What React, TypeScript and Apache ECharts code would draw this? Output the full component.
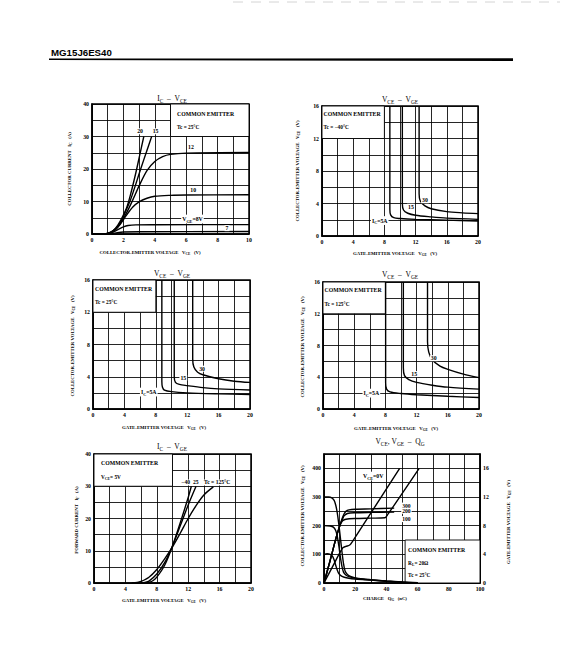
import React, { useEffect, useRef } from 'react';
import * as echarts from 'echarts';

const SERIF = "'Liberation Serif','DejaVu Serif','Times New Roman',serif";
const SANS = "'Liberation Sans',Arial,Helvetica,sans-serif";

// ---------- Chart 1: IC – VCE (Tc = 25°C) ----------
const icVge20 = [[0, 0], [0.8, 0.05], [1.2, 0.6], [1.5, 1.8], [1.8, 4], [2.2, 8], [2.5, 13], [2.8, 19], [3.05, 24.5], [3.3, 30]];
const icVge15 = [[0, 0], [0.8, 0.05], [1.2, 0.6], [1.5, 1.6], [1.8, 3.5], [2.1, 6.5], [2.45, 10.5], [2.8, 15.5], [3.1, 20], [3.45, 25], [3.8, 30]];
const icVge12 = [[0, 0], [0.8, 0.05], [1.2, 0.5], [1.5, 1.5], [1.8, 3.2], [2.2, 6.5], [2.6, 10.5], [3, 14.8], [3.5, 19.5], [4, 22.3], [4.5, 23.8], [5, 24.5], [6, 24.9], [10, 25.1]];
const icVge10 = [[0, 0], [0.8, 0.05], [1.2, 0.5], [1.5, 1.4], [1.8, 3], [2.2, 5.8], [2.6, 8.3], [3, 9.9], [3.5, 11], [4, 11.6], [5, 11.9], [6, 12], [10, 12.1]];
const icVge8 = [[0, 0], [1, 0.1], [1.4, 0.7], [1.7, 1.5], [2, 2.2], [2.3, 2.6], [2.8, 2.8], [4, 2.85], [10, 2.9]];
const icVge7 = [[0, 0], [1.2, 0.1], [1.6, 0.4], [2, 0.6], [3, 0.7], [10, 0.75]];
const c1XLabels = [0, 2, 4, 6, 8, 10];
const c1YLabels = [0, 10, 20, 30, 40];

// ---------- Charts 2-4: VCE – VGE ----------
const tm40Ic5 = [[8.7, 16], [8.7, 3.3], [8.8, 2.6], [9.2, 2.25], [10, 2.15], [12, 2.05], [16, 1.95], [20, 1.85]];
const tm40Ic15 = [[10.3, 16], [10.3, 4.0], [10.45, 3.2], [11, 2.8], [12, 2.55], [14, 2.35], [16, 2.2], [20, 2.05]];
const tm40Ic30 = [[12.45, 16], [12.45, 5.2], [12.6, 4.3], [13.2, 3.7], [14, 3.35], [16, 3.0], [18, 2.85], [20, 2.75]];
const t25Ic5 = [[8.77, 16], [8.77, 3.4], [8.85, 2.7], [9.1, 2.35], [10, 2.15], [12, 2.0], [16, 1.88], [20, 1.8]];
const t25Ic15 = [[10.35, 16], [10.35, 4.0], [10.5, 3.3], [11, 3.05], [12, 2.9], [14, 2.65], [16, 2.5], [20, 2.35]];
const t25Ic30 = [[12.7, 16], [12.7, 6.2], [12.85, 5.2], [13.3, 4.6], [14, 4.25], [16, 3.75], [18, 3.45], [20, 3.3]];
const t125Ic5 = [[8.03, 16], [8.03, 3.3], [8.15, 2.5], [8.6, 2.15], [10, 1.95], [12, 1.8], [16, 1.6], [20, 1.45]];
const t125Ic15 = [[10.3, 16], [10.3, 5.2], [10.45, 4.2], [11, 3.7], [12, 3.35], [14, 3.0], [16, 2.75], [20, 2.5]];
const t125Ic30 = [[13.4, 16], [13.4, 8.5], [13.55, 7.2], [14, 6.2], [15, 5.4], [16, 5.0], [18, 4.4], [20, 3.95]];
const vgeXLabels = [0, 4, 8, 12, 16, 20];
const vceYLabels = [0, 4, 8, 12, 16];

// ---------- Chart 5: IC – VGE (VCE = 5V) ----------
const tfM40 = [[6.6, 0], [7, 0.2], [7.5, 0.7], [8, 1.8], [9, 5.5], [10, 11.5], [11, 18.8], [12, 26.5], [12.4, 30]];
const tf25 = [[6, 0], [6.5, 0.2], [7, 0.6], [8, 2.8], [9, 6.3], [10, 11.5], [11, 17.8], [12, 24.2], [13, 30]];
const tf125 = [[4.8, 0], [5.5, 0.15], [6, 0.5], [7, 1.8], [8, 4.2], [9, 7.5], [10, 11.2], [11, 15.5], [12, 20], [13, 24], [14, 27.3], [15.2, 29.8]];
const c5YLabels = [0, 10, 20, 30, 40];

// ---------- Chart 6: VCE, VGE – QG ----------
const qgVce300 = [[0, 300], [3, 300], [5, 297], [6.5, 288], [7.5, 272], [8.5, 245], [9.5, 205], [10.5, 158], [11.5, 110], [12.5, 68], [13.5, 42], [15, 30], [17, 23], [20, 18], [25, 14], [30, 11.5], [40, 7], [50, 3.5], [60, 1]];
const qgVce200 = [[0, 200], [4, 199], [6, 195], [7.5, 183], [8.5, 163], [9.5, 130], [10.5, 90], [11.5, 58], [12.5, 38], [14, 28], [16, 22], [20, 17], [25, 13], [30, 11], [40, 6.5], [50, 3], [60, 1]];
const qgVce100 = [[0, 100], [2, 102], [4, 100], [5.5, 93], [6.5, 80], [7.5, 62], [8.5, 45], [9.5, 33], [11, 25], [13, 20], [16, 16.5], [20, 14], [30, 10], [40, 6], [50, 2.5], [60, 0.8]];
const qgVge300 = [[0, 0], [4, 3.2], [8, 6.5], [10, 7.9], [11, 8.6], [12, 9.2], [13, 9.7], [14, 10], [16, 10.2], [20, 10.3], [30, 10.35], [45, 10.45]];
const qgVge200 = [[0, 0], [4, 3.2], [8, 6.5], [10, 7.9], [11, 8.5], [12, 9.0], [13, 9.4], [15, 9.7], [20, 9.8], [30, 9.85], [45, 9.9]];
const qgVge100 = [[0, 0], [4, 3.2], [8, 6.5], [10, 7.9], [11, 8.4], [12, 8.7], [14, 8.9], [20, 9.0], [30, 9.05], [39, 9.1], [41, 9.6], [61, 16]];
const qgVge0 = [[0, 0], [6, 2.5], [12, 4.9], [14, 5.1], [16.5, 5.3], [18, 5.7], [48.5, 16]];
const qgXLabels = [0, 20, 40, 60, 80, 100];
const qgVceLabels = [0, 100, 200, 300, 400];
const qgVgeLabels = [0, 4, 8, 12, 16];

const GRIDS = [
  { left: 92, top: 104, width: 157, height: 130 },
  { left: 322, top: 106, width: 156, height: 130 },
  { left: 93, top: 280, width: 157, height: 129 },
  { left: 323, top: 282, width: 156, height: 127 },
  { left: 94, top: 454, width: 157, height: 129 },
  { left: 324, top: 454, width: 156, height: 129 },
];

function axis(gridIndex: number, min: number, max: number, interval: number, labels: number[], extra: any = {}) {
  return {
    type: 'value', gridIndex, min, max, interval,
    axisLine: { show: true, onZero: false, lineStyle: { color: '#000', width: 1.5 } },
    axisTick: { show: false },
    splitLine: { show: true, lineStyle: { color: '#000', width: 0.85 } },
    axisLabel: {
      show: true, margin: 3, fontSize: 5.8, fontWeight: 'bold', fontFamily: SERIF, color: '#000',
      formatter: (v: number) => (labels.some((l) => Math.abs(l - v) < 1e-6) ? String(v) : ''),
    },
    ...extra,
  };
}

function line(data: number[][], xi: number, yi: number) {
  return {
    type: 'line', xAxisIndex: xi, yAxisIndex: yi, data, showSymbol: false, symbol: 'none',
    smooth: 0.3, silent: true, z: 3, lineStyle: { color: '#000', width: 1.4 },
  };
}

function buildOption() {
  return {
    animation: false,
    backgroundColor: '#fff',
    grid: GRIDS.map((g) => ({ ...g, show: true, borderColor: '#000', borderWidth: 1.5, backgroundColor: 'transparent' })),
    xAxis: [
      axis(0, 0, 10, 1, c1XLabels),
      axis(1, 0, 20, 2, vgeXLabels),
      axis(2, 0, 20, 2, vgeXLabels),
      axis(3, 0, 20, 2, vgeXLabels),
      axis(4, 0, 20, 2, vgeXLabels),
      axis(5, 0, 100, 10, qgXLabels),
    ],
    yAxis: [
      axis(0, 0, 40, 5, c1YLabels),
      axis(1, 0, 16, 2, vceYLabels),
      axis(2, 0, 16, 2, vceYLabels),
      axis(3, 0, 16, 2, vceYLabels),
      axis(4, 0, 40, 5, c5YLabels),
      axis(5, 0, 450, 50, qgVceLabels),
      axis(5, 0, 18, 2, qgVgeLabels, { position: 'right', splitLine: { show: false } }),
    ],
    series: [
      line(icVge20, 0, 0), line(icVge15, 0, 0), line(icVge12, 0, 0), line(icVge10, 0, 0), line(icVge8, 0, 0), line(icVge7, 0, 0),
      line(tm40Ic5, 1, 1), line(tm40Ic15, 1, 1), line(tm40Ic30, 1, 1),
      line(t25Ic5, 2, 2), line(t25Ic15, 2, 2), line(t25Ic30, 2, 2),
      line(t125Ic5, 3, 3), line(t125Ic15, 3, 3), line(t125Ic30, 3, 3),
      line(tfM40, 4, 4), line(tf25, 4, 4), line(tf125, 4, 4),
      line(qgVce300, 5, 5), line(qgVce200, 5, 5), line(qgVce100, 5, 5),
      line(qgVge300, 5, 6), line(qgVge200, 5, 6), line(qgVge100, 5, 6), line(qgVge0, 5, 6),
    ],
  };
}

function rt(x: number, y: number, text: string, size: number, o: any = {}) {
  const weight = o.weight || 'bold';
  return {
    type: 'text', x, y, z: 10, rotation: o.rot || 0, silent: true,
    style: {
      text, fill: '#000', fontSize: size, fontFamily: SERIF, fontWeight: weight,
      align: o.align || 'center', verticalAlign: 'middle',
      backgroundColor: o.bg, padding: o.bg ? [0, 1, 0, 1] : 0,
      rich: {
        m: { fontSize: size, lineHeight: size + 3, fill: '#000', fontFamily: SERIF, fontWeight: weight },
        s: { fontSize: size * 0.72, lineHeight: size * 0.72, verticalAlign: 'bottom', fill: '#000', fontFamily: SERIF, fontWeight: weight },
      },
    },
  };
}

function buildGraphics(chart: any) {
  const P = (xi: number, yi: number, pt: number[]) => chart.convertToPixel({ xAxisIndex: xi, yAxisIndex: yi }, pt) as number[];
  const els: any[] = [];
  const box = (i: number, x0: number, x1: number, y0: number, y1: number) => {
    const a = P(i, i, [x0, y1]);
    const b = P(i, i, [x1, y0]);
    els.push({ type: 'rect', z: 1, silent: true, shape: { x: a[0], y: a[1], width: b[0] - a[0], height: b[1] - a[1] }, style: { fill: '#fff', stroke: '#000', lineWidth: 0.9 } });
    return a;
  };
  const lab = (i: number, pt: number[], text: string, size = 5.8, align = 'center') => {
    const p = P(i, i, pt);
    els.push(rt(p[0], p[1], text, size, { align, bg: '#fff' }));
  };
  const R = Math.PI / 2;

  // header
  els.push({ type: 'text', x: 51, y: 52, z: 10, style: { text: 'MG15J6ES40', fill: '#000', fontSize: 9.7, fontWeight: 'bold', fontFamily: SANS, align: 'left', verticalAlign: 'middle' } });
  els.push({ type: 'polygon', z: 10, shape: { points: [[49, 58.6], [513, 58.2], [513, 61], [49, 60]] }, style: { fill: '#000' } });
  els.push({ type: 'line', z: 10, shape: { x1: 233, y1: 2, x2: 560, y2: 2 }, style: { stroke: '#d4d4d4', lineWidth: 1, lineDash: [10, 8] } });

  // titles
  els.push(rt(172, 98, '{m|I}{s|C}{m|  –  V}{s|CE}', 7.5, { weight: 'normal' }));
  els.push(rt(400, 99, '{m|V}{s|CE}{m|  –  V}{s|GE}', 7.5, { weight: 'normal' }));
  els.push(rt(172, 273, '{m|V}{s|CE}{m|  –  V}{s|GE}', 7.5, { weight: 'normal' }));
  els.push(rt(400, 274, '{m|V}{s|CE}{m|  –  V}{s|GE}', 7.5, { weight: 'normal' }));
  els.push(rt(172, 446, '{m|I}{s|C}{m|  –  V}{s|GE}', 7.5, { weight: 'normal' }));
  els.push(rt(400, 441, '{m|V}{s|CE}{m|, V}{s|GE}{m|  –  Q}{s|G}', 7.5, { weight: 'normal' }));

  // axis captions
  const vceCap = '{m|COLLECTOR-EMITTER VOLTAGE   V}{s|CE}{m|   (V)}';
  const vgeCap = '{m|GATE-EMITTER VOLTAGE   V}{s|GE}{m|   (V)}';
  els.push(rt(150, 252, vceCap, 4.8));
  els.push(rt(395, 253, vgeCap, 4.8));
  els.push(rt(164, 427, vgeCap, 4.8));
  els.push(rt(396, 428, vgeCap, 4.8));
  els.push(rt(164, 600, vgeCap, 4.8));
  els.push(rt(385, 598, '{m|CHARGE   Q}{s|G}{m|   (nC)}', 4.8));
  els.push(rt(69, 169, '{m|COLLECTOR CURRENT   I}{s|C}{m|   (A)}', 4.8, { rot: R }));
  els.push(rt(297, 171, vceCap, 4.8, { rot: R }));
  els.push(rt(72, 346, vceCap, 4.8, { rot: R }));
  els.push(rt(302, 347, vceCap, 4.8, { rot: R }));
  els.push(rt(76, 520, '{m|FORWARD CURRENT   I}{s|F}{m|   (A)}', 4.8, { rot: R }));
  els.push(rt(302, 516, vceCap, 4.8, { rot: R }));
  els.push(rt(508, 522, vgeCap, 4.8, { rot: R }));

  // condition boxes
  let a = box(0, 5, 10, 30, 40);
  els.push(rt(a[0] + 6.5, a[1] + 10, 'COMMON EMITTER', 5.8, { align: 'left' }));
  els.push(rt(a[0] + 6.5, a[1] + 23, 'Tc = 25°C', 5.3, { align: 'left' }));
  a = box(1, 0, 8, 12, 16);
  els.push(rt(a[0] + 1.5, a[1] + 8, 'COMMON EMITTER', 5.8, { align: 'left' }));
  els.push(rt(a[0] + 1.5, a[1] + 21, 'Tc = −40°C', 5.3, { align: 'left' }));
  a = box(2, 0, 8, 12, 16);
  els.push(rt(a[0] + 2, a[1] + 9, 'COMMON EMITTER', 5.8, { align: 'left' }));
  els.push(rt(a[0] + 2, a[1] + 22, 'Tc = 25°C', 5.3, { align: 'left' }));
  a = box(3, 0, 8, 12, 16);
  els.push(rt(a[0] + 1.5, a[1] + 8, 'COMMON EMITTER', 5.8, { align: 'left' }));
  els.push(rt(a[0] + 1.5, a[1] + 22, 'Tc = 125°C', 5.3, { align: 'left' }));
  a = box(4, 0, 10, 30, 40);
  els.push(rt(a[0] + 7, a[1] + 9, 'COMMON EMITTER', 5.8, { align: 'left' }));
  els.push(rt(a[0] + 7, a[1] + 23, '{m|V}{s|CE}{m|= 5V}', 5.3, { align: 'left' }));
  a = box(5, 52, 100, 0, 150);
  els.push(rt(a[0] + 3, a[1] + 10, 'COMMON EMITTER', 5.8, { align: 'left' }));
  els.push(rt(a[0] + 3, a[1] + 22.5, '{m|R}{s|L}{m|= 20Ω}', 5.3, { align: 'left' }));
  els.push(rt(a[0] + 3, a[1] + 35, 'Tc = 25°C', 5.3, { align: 'left' }));

  // curve labels
  lab(0, [3.06, 31.6], '20'); lab(0, [4.05, 31.6], '15'); lab(0, [6.3, 26.8], '12');
  lab(0, [6.45, 13.6], '10'); lab(0, [6.4, 4.6], '{m|V}{s|GE}{m|=8V}'); lab(0, [8.6, 1.8], '7');
  lab(1, [13.2, 4.4], '30'); lab(1, [11.4, 3.6], '15'); lab(1, [7.4, 1.9], '{m|I}{s|C}{m|=5A}');
  lab(2, [13.9, 5.0], '30'); lab(2, [11.5, 3.85], '15'); lab(2, [7.1, 2.1], '{m|I}{s|C}{m|=5A}');
  lab(3, [14.2, 6.4], '30'); lab(3, [11.7, 4.4], '15'); lab(3, [6.2, 2.0], '{m|I}{s|C}{m|=5A}');
  lab(4, [11.0, 31.2], '−40  25    Tc = 125°C', 5.6, 'left');
  lab(5, [31.5, 373], '{m|V}{s|CE}{m|=0V}');
  lab(5, [49.5, 270], '300', 5.6, 'left'); lab(5, [49.5, 252], '200', 5.6, 'left'); lab(5, [49.5, 223], '100', 5.6, 'left');
  return els;
}

export default function App() {
  const ref = useRef<HTMLDivElement>(null);
  useEffect(() => {
    const el = ref.current;
    if (!el) return;
    const chart = echarts.init(el, null, { renderer: 'svg' });
    chart.setOption(buildOption() as any);
    chart.setOption({ graphic: buildGraphics(chart) } as any);
    return () => chart.dispose();
  }, []);
  return <div ref={ref} style={{ position: 'absolute', left: 0, top: 0, width: 566, height: 662, background: '#fff' }} />;
}
